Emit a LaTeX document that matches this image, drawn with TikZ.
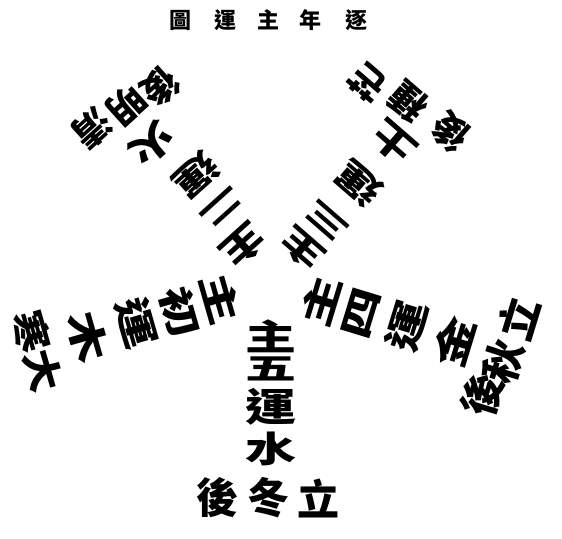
\documentclass[tikz,border=0pt]{standalone}
\usepackage{graphicx}
\usepackage{fontspec}
\newfontfamily\cjk{Noto Sans CJK TC}
\newcommand\sqz[2][0.76]{\scalebox{1}[#1]{#2}}
\tikzset{
  ttl/.style={font=\cjk\bfseries\fontsize{22}{22}\selectfont, inner sep=0pt},
  big/.style={font=\cjk\bfseries\fontsize{51}{51}\selectfont, inner sep=0pt},
  mid/.style={font=\cjk\bfseries\fontsize{47}{47}\selectfont, inner sep=0pt},
  sec/.style={font=\cjk\bfseries\fontsize{42}{42}\selectfont, inner sep=0pt},
  secs/.style={font=\cjk\bfseries\fontsize{37}{37}\selectfont, inner sep=0pt},
}
\begin{document}
\begin{tikzpicture}[x=1pt,y=-1pt]
\useasboundingbox (0,0) rectangle (562,538);
% title (displayed right to left)
\node[ttl] (t1) at (180,20) {圖};
\node[ttl] (t2) at (225,20) {運};
\node[ttl] (t3) at (268,20) {主};
\node[ttl] (t4) at (310,20) {年};
\node[ttl] (t5) at (356,20) {逐};
% bottom arm
\node[big] (b1) at (271,336) {\sqz[0.7]{主}};
\node[big] (b2) at (271,369) {\sqz[0.58]{五}};
\node[big] (b3) at (271,407) {\sqz[0.76]{運}};
\node[big] (b4) at (271,449) {\sqz[0.7]{水}};
\node[sec] (bs1) at (318,498) {立};
\node[sec] (bs2) at (268,498) {冬};
\node[sec] (bs3) at (217,498) {後};
% left arm
\node[big,rotate=-74] (l1) at (221,299) {\sqz[0.72]{主}};
\node[big,rotate=-74] (l2) at (180,312) {\sqz[0.72]{初}};
\node[big,rotate=-74] (l3) at (137,323) {\sqz{運}};
\node[big,rotate=-74] (l4) at (88,337) {\sqz{木}};
\node[sec,rotate=-74] (ls1) at (43,371) {\sqz[0.9]{大}};
\node[sec,rotate=-74] (ls2) at (31,332) {\sqz[0.9]{寒}};
% right arm
\node[big,rotate=73] (r1) at (321,301) {\sqz[0.72]{主}};
\node[big,rotate=73] (r2) at (361,313) {\sqz[0.72]{四}};
\node[big,rotate=73] (r3) at (407,326) {\sqz{運}};
\node[big,rotate=73] (r4) at (454,342) {\sqz{金}};
\node[sec,rotate=73] (rs1) at (518,318) {立};
\node[sec,rotate=73] (rs2) at (503,362) {秋};
\node[sec,rotate=73] (rs3) at (482,395) {後};
% upper-left arm
\node[mid,rotate=-138] (ul1) at (244,246) {\sqz{主}};
\node[mid,rotate=-138] (ul2) at (222,208) {\sqz[0.6]{二}};
\node[mid,rotate=-138] (ul3) at (196,175) {\sqz{運}};
\node[mid,rotate=-138] (ul4) at (152,144) {\sqz{火}};
\node[secs,rotate=-138] (uls1) at (92,128) {清};
\node[secs,rotate=-138] (uls2) at (127,105) {明};
\node[secs,rotate=-138] (uls3) at (160,87) {後};
% upper-right arm
\node[mid,rotate=139] (ur1) at (302,249) {\sqz[0.7]{主}};
\node[mid,rotate=139] (ur2) at (327,221) {\sqz[0.62]{三}};
\node[mid,rotate=139] (ur3) at (359,183) {\sqz{運}};
\node[mid,rotate=139] (ur4) at (393,143) {\sqz{土}};
\node[secs,rotate=139] (urs1) at (368,83) {芒};
\node[secs,rotate=139] (urs2) at (408,102) {種};
\node[secs,rotate=139] (urs3) at (450,132) {後};
\end{tikzpicture}
\end{document}
